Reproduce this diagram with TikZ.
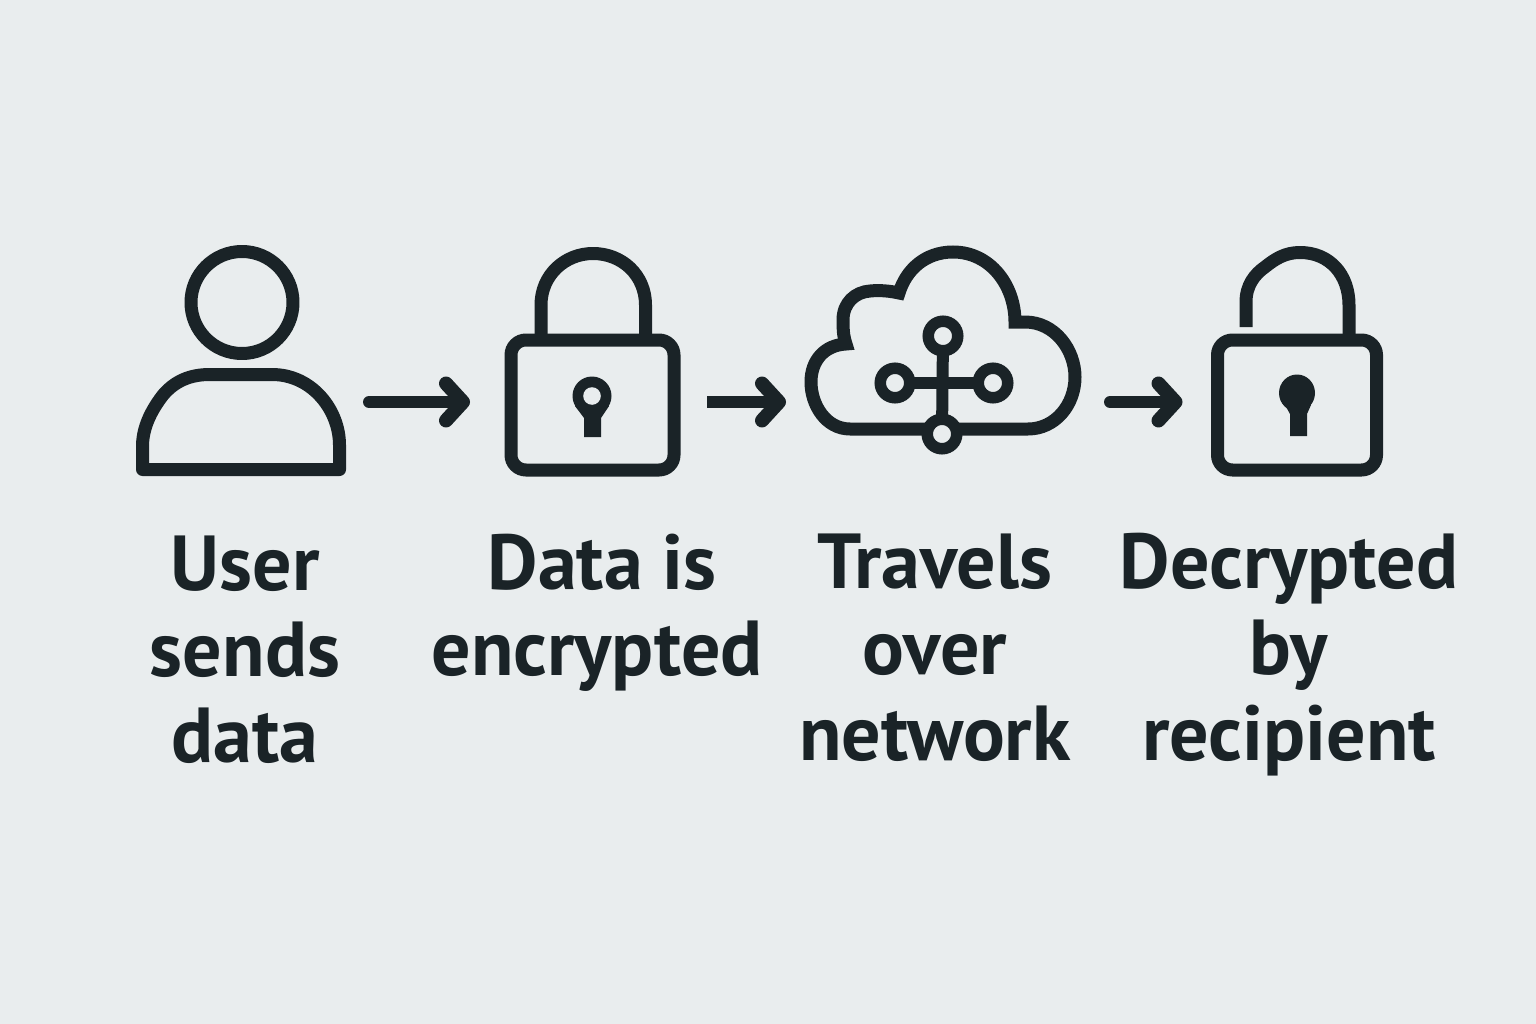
\documentclass[tikz,border=0pt]{standalone}
\usepackage{fontspec}
\setmainfont{PT Sans}
\usetikzlibrary{arrows.meta}
\definecolor{bgc}{HTML}{E9EDEE}
\definecolor{ink}{HTML}{1A2327}
\tikzset{
  x=1pt,y=-1pt,
  icon/.style={draw=ink,line width=13pt,line join=round,line cap=round},
  lockbody/.style={draw=ink,line width=13pt,rounded corners=15pt,inner sep=0pt,outer sep=0pt},
  hit/.style={inner sep=0pt,outer sep=0pt},
  hub/.style={circle,draw=ink,fill=bgc,line width=11.5pt,inner sep=0pt,outer sep=0pt,minimum size=29.5pt},
  link/.style={draw=ink,line width=12pt},
  flow/.style={draw=ink,line width=12pt,-{Straight Barb[round,length=17pt,width=37pt,line width=14pt]}},
  label/.style={text=ink,font=\fontsize{78}{86}\selectfont\bfseries,align=center,anchor=base,inner sep=0pt},
}
\begin{document}
\begin{tikzpicture}
\useasboundingbox (0,0) rectangle (1536,1024);
\fill[bgc] (0,0) rectangle (1536,1024);
% user
\draw[icon] (242,302.5) circle (51);
\draw[icon] (142.5,469.5) -- (142.5,445) .. controls (143,428) and (150,412) .. (163,395)
  .. controls (175,381) and (190,374.5) .. (210,374.5) -- (272,374.5)
  .. controls (312,374.5) and (339.5,410) .. (339.5,445) -- (339.5,469.5) -- cycle;
\node[hit,minimum width=210pt,minimum height=148pt] (user) at (241,402) {};
% closed lock
\draw[icon,line cap=butt] (541,340) -- (541,305) .. controls (541,275) and (565,253.5) .. (593,253.5)
  .. controls (622,253.5) and (645.5,275) .. (645.5,305) -- (645.5,340);
\node[lockbody,minimum width=163pt,minimum height=130pt] (lockA) at (592.5,405) {};
\fill[ink] (592,396) circle (19.5);
\fill[ink] (575,406) -- (584,418) -- (584,437) -- (601,437) -- (601,418) -- (609,406) -- cycle;
\fill[bgc] (592,396) circle (8.8);
% cloud
\node[hit,minimum width=275pt,minimum height=148pt] (cloudbox) at (942.5,402) {};
\draw[icon,line join=miter] (925,429) -- (850,429) .. controls (826,429) and (811,405) .. (811,382)
  .. controls (811,360) and (825,345) .. (846,344)
  .. controls (843,335) and (843,328) .. (843,320)
  .. controls (843,303) and (855,292) .. (870,291) .. controls (880,290) and (890,291) .. (899,293)
  .. controls (906,270) and (925,252) .. (953,252)
  .. controls (990,252) and (1015,285) .. (1015,322)
  -- (1025,322) .. controls (1055,322) and (1075,350) .. (1075,377)
  .. controls (1075,405) and (1055,429) .. (1028,429) -- (955,429);
\node[hub] (ntop) at (943,336) {};
\node[hub] (nleft) at (895,383) {};
\node[hub] (nright) at (993,383) {};
\node[hub] (nbot) at (942,434) {};
\draw[link] (ntop) -- (nbot);
\draw[link] (nleft) -- (nright);
% open lock
\draw[icon,line cap=butt] (1246,327) -- (1246,302) .. controls (1246,285) and (1255,274) .. (1265,267)
  .. controls (1275,259) and (1285,252.5) .. (1300,252.5)
  .. controls (1330,252.5) and (1349,275) .. (1349,305) -- (1349,340);
\node[lockbody,minimum width=159pt,minimum height=130pt] (lockB) at (1297,405) {};
\fill[ink] (1297,393) ellipse (18 and 18.5);
\fill[ink] (1285,405) -- (1290,414) -- (1290,436) -- (1307,436) -- (1307,414) -- (1311,405) -- cycle;
% connectors
\draw[flow,line cap=round,shorten <=23pt,shorten >=41pt] (user.east) -- ([yshift=3pt]lockA.west);
\draw[flow,shorten <=33pt,shorten >=19pt] ([yshift=3pt]lockA.east) -- (cloudbox.west);
\draw[flow,line cap=round,shorten <=30pt,shorten >=35pt] (cloudbox.east) -- ([yshift=3pt]lockB.west);
% labels
\node[label] (t1) at (245,762) {User\\sends\\data};
\node[label] (t2) at (597,675) {\hspace*{10pt}Data is\\encrypted};
\node[label] (t3) at (935,760) {Travels\\over\\network};
\node[label] (t4) at (1289,760) {Decrypted\\by\\recipient};
\end{tikzpicture}
\end{document}
